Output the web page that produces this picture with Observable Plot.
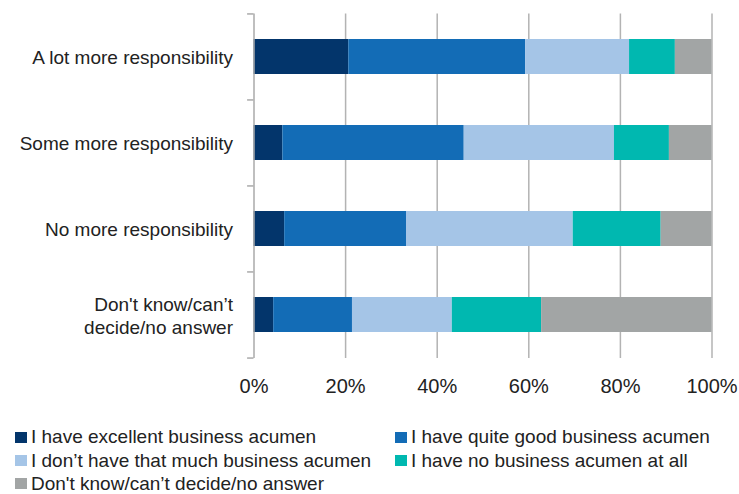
<!DOCTYPE html>
<html>
<head>
<meta charset="utf-8">
<script src="https://cdn.jsdelivr.net/npm/d3@7"></script>
<script src="https://cdn.jsdelivr.net/npm/@observablehq/plot@0.6"></script>
<style>
  html, body { margin: 0; padding: 0; background: #fff; }
  body { width: 739px; height: 494px; position: relative; overflow: hidden; font-family: "Liberation Sans", Arial, sans-serif; }
  #chart { position: absolute; left: 0; top: 0; }
  #legend { position: absolute; left: 0; top: 0; width: 739px; }
  .item { position: absolute; display: flex; align-items: center; font-size: 19px; line-height: 20px; color: #222; white-space: nowrap; }
  .sw { width: 12px; height: 11px; margin-right: 4px; flex: none; }
</style>
</head>
<body>
<div id="chart"></div>
<div id="legend"></div>
<script>
const categories = [
  "A lot more responsibility",
  "Some more responsibility",
  "No more responsibility",
  "Don't know/can’t\ndecide/no answer"
];
const seriesNames = [
  "I have excellent business acumen",
  "I have quite good business acumen",
  "I don’t have that much business acumen",
  "I have no business acumen at all",
  "Don't know/can’t decide/no answer"
];
const colors = ["#03356b", "#136cb6", "#a5c5e7", "#00b8b0", "#a2a5a5"];
// values per category, in series order (percent)
const excellent   = [20.7, 6.3, 6.7, 4.3];
const quiteGood   = [38.6, 39.6, 26.6, 17.2];
const notMuch     = [22.7, 32.8, 36.4, 21.8];
const none        = [10.0, 12.0, 19.2, 19.5];
const dontKnow    = [8.0, 9.3, 11.1, 37.2];
const xTicks = [0, 20, 40, 60, 80, 100];

const seriesValues = [excellent, quiteGood, notMuch, none, dontKnow];
const data = [];
categories.forEach((c, i) => {
  seriesValues.forEach((vals, s) => {
    data.push({category: c, series: seriesNames[s], value: vals[i]});
  });
});

const W = 739, H = 410;
const mTop = 13.5, mBottom = 52, mLeft = 253.5, mRight = 27.5;
const step = (H - mTop - mBottom) / categories.length;

const chart = Plot.plot({
  width: W,
  height: H,
  marginTop: mTop,
  marginBottom: mBottom,
  marginLeft: mLeft,
  marginRight: mRight,
  style: {fontFamily: "Liberation Sans, Arial, sans-serif", color: "#222", background: "#fff"},
  x: {domain: [0, 100], ticks: xTicks},
  y: {domain: categories, paddingInner: 0.59, paddingOuter: 0.295, align: 0.5},
  color: {domain: seriesNames, range: colors},
  marks: [
    Plot.ruleX(xTicks.slice(1), {stroke: "#b3b3b3", strokeWidth: 1.5, strokeOpacity: 1}),
    Plot.barX(data, {y: "category", x: "value", fill: "series", order: seriesNames}),
    Plot.ruleX([0], {stroke: "#aaaaaa", strokeWidth: 1.5}),
    Plot.ruleY(categories, {y: d => d, x1: -1.4, x2: 0, dy: -step / 2, stroke: "#aaaaaa", strokeWidth: 1.5}),
    Plot.ruleY([categories[categories.length - 1]], {y: d => d, x1: -1.4, x2: 0, dy: step / 2, stroke: "#aaaaaa", strokeWidth: 1.5}),
    Plot.axisX({ticks: xTicks, tickSize: 0, tickPadding: 20, tickFormat: d => d + "%", fontSize: 20, label: null}),
    Plot.axisY({tickSize: 0, tickPadding: 21, fontSize: 19, label: null, lineHeight: 1.2})
  ]
});
document.getElementById("chart").appendChild(chart);

const legendPos = [
  [15, 437], [395, 437],
  [15, 460.5], [395, 460.5],
  [15, 483.5]
];
const legend = document.getElementById("legend");
seriesNames.forEach((name, i) => {
  const it = document.createElement("div");
  it.className = "item";
  it.style.left = legendPos[i][0] + "px";
  it.style.top = (legendPos[i][1] - 10) + "px";
  it.style.height = "20px";
  const sw = document.createElement("div");
  sw.className = "sw";
  sw.style.background = colors[i];
  const t = document.createElement("span");
  t.textContent = name;
  it.appendChild(sw);
  it.appendChild(t);
  legend.appendChild(it);
});
</script>
</body>
</html>
